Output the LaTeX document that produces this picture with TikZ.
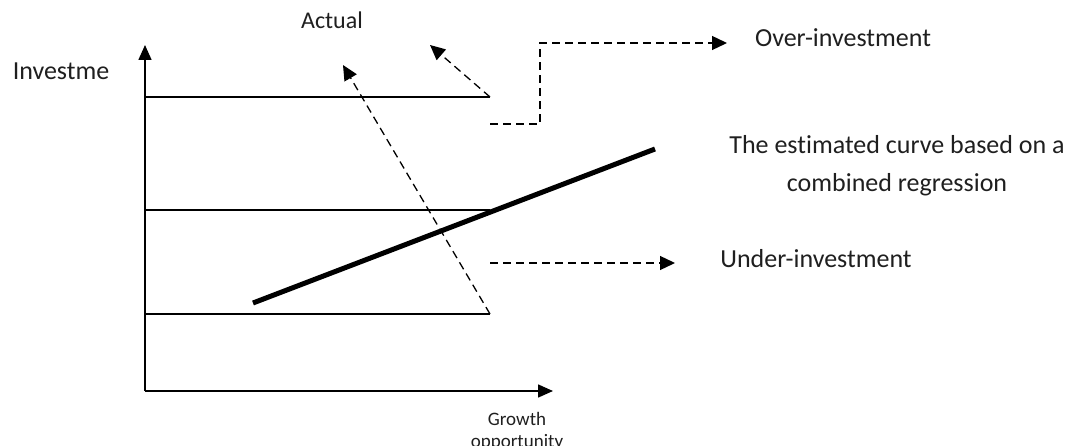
\documentclass[tikz,border=0pt]{standalone}
\usepackage{fontspec}
\setmainfont{Carlito}[Ligatures=NoCommon]
\usetikzlibrary{arrows.meta, positioning}

\begin{document}
\begin{tikzpicture}[x=1pt, y=-1pt,
    txt/.style={inner sep=0pt, text=black!88, align=center, font=\fontsize{26}{38}\selectfont},
    axis/.style={line width=1.6pt, -{Triangle[length=15pt, width=13pt]}},
    level/.style={line width=1.6pt},
    guide/.style={line width=1.3pt, dash pattern=on 8pt off 5pt, -{Triangle[length=15pt, width=14pt]}},
    regline/.style={line width=5pt}]

        \useasboundingbox (0,0) rectangle (1070,446);

        % axes
        \coordinate (O) at (145,391);
        \coordinate (ytop) at (145,45);
        \coordinate (xend) at (553,391);
        \draw[axis] (O) -- (ytop);
        \draw[axis] (O) -- (xend);

        % investment levels
        \coordinate (top end) at (490,97);
        \coordinate (mid end) at (490,210);
        \coordinate (low end) at (490,314);
        \draw[level] (top end -| O) -- (top end);
        \draw[level] (mid end -| O) -- (mid end);
        \draw[level] (low end -| O) -- (low end);

        \node[txt, font=\fontsize{24}{28}\selectfont] (actual) at (332,20) {Actual};
        \node[txt] (invest) at (61,71) {Investme};
        \node[txt] (over) at (843,38) {Over-investment};
        \node[txt] (curve) at (897,166) {The estimated curve based on a\\combined regression};
        \node[txt] (under) at (816,259) {Under-investment};
        \node[txt, font=\fontsize{19}{22}\selectfont] (growth) at (517,431) {Growth\\opportunity};

        \coordinate (long tip) at (343,65);
        \coordinate (short tip) at (430,45);
        \coordinate (step start) at (490,124);
        \coordinate (over tip) at (727,43);
        \coordinate (under start) at (490,263);
        \coordinate (under tip) at (675,263);

        \draw[guide] (low end) -- (long tip);
        \draw[guide] (top end) -- (short tip);
        \draw[guide] (step start) -- (540,124) -- (540,43) -- (over tip);
        \draw[guide] (under start) -- (under tip);

        % estimated curve
        \draw[regline] (253,303) -- (655,149);

    \end{tikzpicture}
\end{document}
